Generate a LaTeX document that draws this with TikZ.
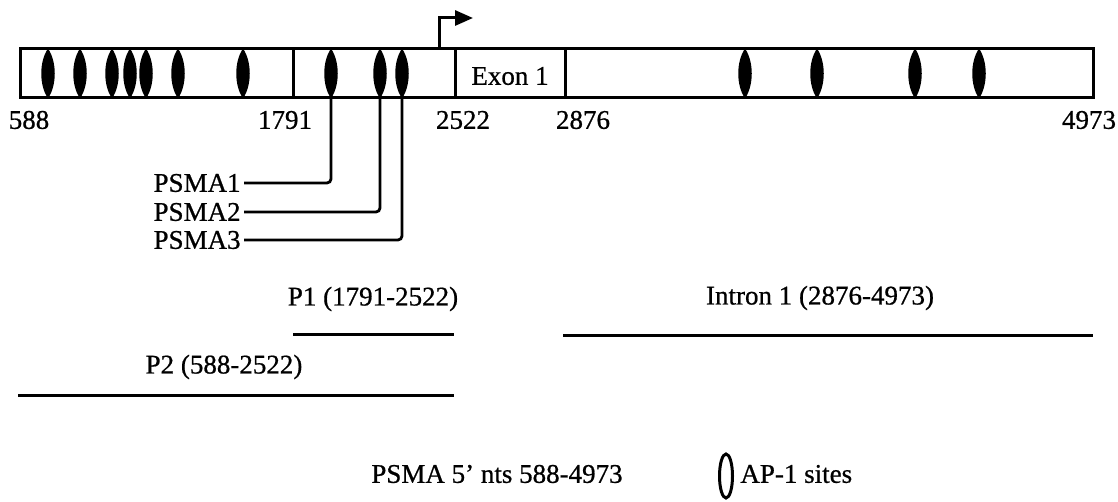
\documentclass[tikz,border=0pt]{standalone}
\usepackage{fontspec}
\setmainfont{Liberation Serif}[BoldFont={Liberation Serif},BoldFeatures={FakeBold=0.7}]
\usetikzlibrary{arrows.meta,shapes.geometric}
\begin{document}
\begin{tikzpicture}[x=0.5pt,y=-0.5pt,
  font=\fontsize{13.5}{15}\selectfont\bfseries,
  seg/.style={draw,line width=1.5pt},
  ap/.style={ellipse,inner sep=0pt,minimum width=6.5pt,minimum height=24.5pt},
  lbl/.style={inner sep=0pt},
  conn/.style={line width=1.4pt,rounded corners=2pt},
  fragline/.style={line width=1.5pt}]
\useasboundingbox (0,0) rectangle (1118,502);
% box segments
\draw[seg] (20,49) rectangle (293,98);
\draw[seg] (293,49) rectangle (455,98);
\draw[seg] (455,49) rectangle (565,98);
\draw[seg] (565,49) rectangle (1093,98);
\node[lbl] (exon) at (510,76) {Exon 1};
% AP-1 sites (lens shaped)
\foreach \n/\x in {1/48,2/80,3/112,4/130,5/146,6/178,7/243,8/331,9/380,10/402,11/745,12/817,13/915,14/979}{
  \node[ap] (o\n) at (\x,73.5) {};
  \fill (o\n.north) .. controls +(-9,13) and +(-9,-13) .. (o\n.south)
        .. controls +(9,-13) and +(9,13) .. (o\n.north) -- cycle;
}
% transcription start arrow
\coordinate (tss) at (439,49);
\coordinate (tip) at (473,18);
\draw[line width=1.5pt,-{Triangle[length=9pt,width=7.5pt]}] (tss) |- (tip);
% position labels
\node[lbl] (n588) at (29,120) {588};
\node[lbl] (n1791) at (285,120) {1791};
\node[lbl] (n2522) at (463,120) {2522};
\node[lbl] (n2876) at (583,120) {2876};
\node[lbl] (n4973) at (1089,120) {4973};
% PSMA primers
\node[lbl,anchor=east] (psma1) at (241,183) {PSMA1};
\node[lbl,anchor=east] (psma2) at (241,212) {PSMA2};
\node[lbl,anchor=east] (psma3) at (241,240) {PSMA3};
\draw[conn] ([xshift=1.5pt]psma1.east) -- (psma1.east -| o8.south) -- (o8.south);
\draw[conn] ([xshift=1.5pt]psma2.east) -- (psma2.east -| o9.south) -- (o9.south);
\draw[conn] ([xshift=1.5pt]psma3.east) -- (psma3.east -| o10.south) -- (o10.south);
% fragments
\node[lbl] (p1) at (373,299) {P1 (1791-2522)};
\coordinate (p1a) at (293,334); \coordinate (p1b) at (454,334);
\draw[fragline] (p1a) -- (p1b);
\node[lbl] (p2) at (224,367) {P2 (588-2522)};
\coordinate (p2a) at (18,395); \coordinate (p2b) at (454,395);
\draw[fragline] (p2a) -- (p2b);
\node[lbl] (intron) at (820,298) {Intron 1 (2876-4973)};
\coordinate (ia) at (563,335); \coordinate (ib) at (1093,335);
\draw[fragline] (ia) -- (ib);
% legend
\node[lbl] (title) at (497,474) {PSMA 5’ nts 588-4973};
\node[ellipse,draw=black,line width=1.5pt,inner sep=0pt,minimum width=6.5pt,minimum height=22pt] (leg) at (726,476) {};
\node[lbl,anchor=west] (legt) at (740,474) {AP-1 sites};
\end{tikzpicture}
\end{document}
